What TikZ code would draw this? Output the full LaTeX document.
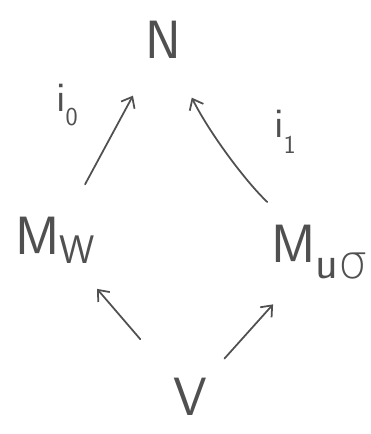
\documentclass[tikz,border=0pt]{standalone}
\usepackage{fontspec}
\usepackage{tikz}
\usetikzlibrary{arrows.meta,positioning}
\newfontfamily\greekfont{DejaVu Sans ExtraLight}
\definecolor{ink}{HTML}{505050}
% lowered, fairly large index as in the hand-written figure
\newcommand{\lowidx}[3]{\raisebox{-#1}{\fontsize{#2}{#2}\selectfont #3}}

\begin{document}
\begin{tikzpicture}[x=0.03cm,y=-0.03cm,
    obj/.style={inner sep=0pt,text=ink,font=\fontsize{46}{54}\sffamily},
    lab/.style={inner sep=0pt,text=ink,font=\fontsize{36}{40}\sffamily},
    map/.style={draw=ink,line width=1.5pt,line cap=round,-{Straight Barb[length=8pt,width=13pt,line width=1.5pt]}}]
  % Frame
  \useasboundingbox (0,0) rectangle (371,434);
  % Objects
  \node[obj] (n) at (163,40) {N};
  \node[obj] (mw) at (55,240) {M\lowidx{8pt}{34}{W}};
  \node[obj] (mu) at (320,252) {M\lowidx{14pt}{40}{u{\greekfont σ}}};
  \node[obj] (v) at (190,397) {V};
  % Maps
  \draw[map,shorten <=65pt,shorten >=55pt] (v.center) -- (mw.center);
  \draw[map,shorten <=44pt,shorten >=60pt] (v.center) -- (mu.center);
  \draw[map,shorten <=54pt,shorten >=54pt] (mw.center) -- (n.center);
  \draw[map,shorten <=62pt,shorten >=55pt] (mu.center) to[bend left=10] (n.center);
  % Labels
  \node[lab] (i0) at (67,105) {i\lowidx{12pt}{22}{0}};
  \node[lab] (i1) at (285,132) {i\lowidx{14pt}{22}{1}};
\end{tikzpicture}
\end{document}
